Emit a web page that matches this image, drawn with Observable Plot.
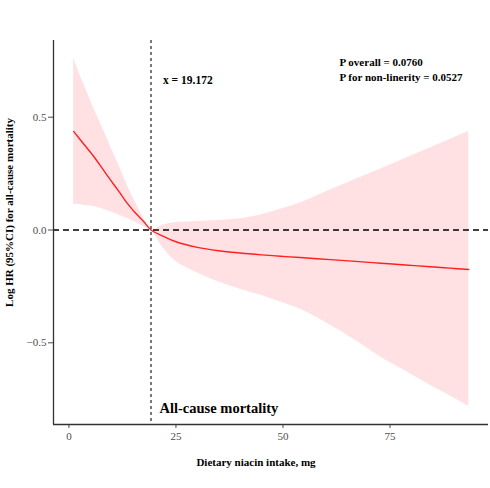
<!DOCTYPE html>
<html>
<head>
<meta charset="utf-8">
<script src="https://cdn.jsdelivr.net/npm/d3@7"></script>
<script src="https://cdn.jsdelivr.net/npm/@observablehq/plot@0.6"></script>
<style>
  html, body { margin: 0; padding: 0; background: #fff; }
  #chart { width: 490px; height: 488px; }
  #chart svg, #chart svg text { font-family: "Liberation Serif", "Times New Roman", serif !important; }
</style>
</head>
<body>
<div id="chart"></div>
<script>
const niacin = [1.1, 3.5, 5.8, 7.8, 9.7, 11.7, 13.6, 15.6, 17.5, 19.172, 22, 25, 30, 35, 40, 45, 49.4, 54, 61.1, 67, 72.8, 78.6, 84.5, 89, 93.4];
const logHR  = [0.437, 0.38, 0.326, 0.273, 0.222, 0.17, 0.119, 0.074, 0.037, 0, -0.027, -0.052, -0.077, -0.092, -0.102, -0.11, -0.116, -0.122, -0.131, -0.139, -0.147, -0.155, -0.163, -0.169, -0.175];
const upper  = [0.759, 0.645, 0.54, 0.455, 0.37, 0.285, 0.2, 0.12, 0.05, 0, 0.022, 0.033, 0.038, 0.042, 0.05, 0.068, 0.092, 0.12, 0.177, 0.225, 0.271, 0.317, 0.365, 0.401, 0.438];
const lower  = [0.114, 0.11, 0.104, 0.094, 0.081, 0.067, 0.052, 0.034, 0.015, 0, -0.08, -0.14, -0.19, -0.23, -0.262, -0.29, -0.319, -0.35, -0.422, -0.49, -0.563, -0.625, -0.689, -0.735, -0.782];

const cutoff = 19.172;
const xTicks = [0, 25, 50, 75];
const yTicks = [-0.5, 0, 0.5];
const xDomain = [-3.6, 98];
const yDomain = [-0.862, 0.84];

const titleText = "All-cause mortality";
const xLabel = "Dietary niacin intake, mg";
const yLabel = "Log HR (95%CI) for all-cause mortality";
const pTexts = ["P overall = 0.0760", "P for non-linerity = 0.0527"];

const rows = niacin.map((x, i) => ({x, fit: logHR[i], lo: lower[i], hi: upper[i]}));
const fmtY = v => d3.format(".1f")(v).replace("-", "\u2212");
const serif = "'Liberation Serif', 'Times New Roman', serif";

const chart = Plot.plot({
  width: 490,
  height: 488,
  marginLeft: 53,
  marginRight: 2,
  marginTop: 40,
  marginBottom: 64,
  style: {fontFamily: serif, background: "#fff"},
  x: {domain: xDomain},
  y: {domain: yDomain},
  marks: [
    Plot.areaY(rows, {x: "x", y1: "lo", y2: "hi", fill: "#ffe1e3", curve: "catmull-rom"}),
    Plot.ruleY([0], {stroke: "#000", strokeWidth: 1.3, strokeDasharray: "6,4"}),
    Plot.ruleX([cutoff], {stroke: "#222", strokeWidth: 1.2, strokeDasharray: "3,3"}),
    Plot.lineY(rows, {x: "x", y: "fit", stroke: "#ff2020", strokeWidth: 1.4, curve: "catmull-rom"}),
    Plot.axisY({ticks: yTicks, tickFormat: fmtY, tickSize: 5, tickPadding: 2, fontSize: 11, fontFamily: serif, color: "#4d4d4d", label: null}),
    Plot.axisX({ticks: xTicks, tickSize: 4, tickPadding: 4, fontSize: 11, fontFamily: serif, color: "#4d4d4d", label: null}),
    Plot.ruleX([xDomain[0]], {stroke: "#333", strokeWidth: 1.3}),
    Plot.ruleY([yDomain[0]], {stroke: "#333", strokeWidth: 1.3}),
    Plot.text([{x: cutoff, t: "x = " + cutoff}], {x: "x", text: "t", frameAnchor: "top", dy: 35.5, dx: 12, textAnchor: "start", fontSize: 11.5, fontWeight: "bold", fontFamily: serif, fill: "#000"}),
    Plot.text([pTexts[0]], {frameAnchor: "top-left", dx: 286, dy: 21.5, textAnchor: "start", lineAnchor: "middle", fontSize: 11, fontWeight: "bold", fontFamily: serif, fill: "#000"}),
    Plot.text([pTexts[1]], {frameAnchor: "top-left", dx: 286, dy: 36.5, textAnchor: "start", lineAnchor: "middle", fontSize: 11, fontWeight: "bold", fontFamily: serif, fill: "#000"}),
    Plot.text([titleText], {frameAnchor: "bottom-left", dx: 106, dy: -16, textAnchor: "start", lineAnchor: "middle", fontSize: 14.5, fontWeight: "bold", fontFamily: serif, fill: "#000"}),
    Plot.text([xLabel], {frameAnchor: "bottom", dx: -15, dy: 38, textAnchor: "middle", lineAnchor: "middle", fontSize: 11, fontWeight: "bold", fontFamily: serif, fill: "#000"}),
    Plot.text([yLabel], {frameAnchor: "left", dx: -44, dy: -20, rotate: -90, textAnchor: "middle", lineAnchor: "middle", fontSize: 11, fontWeight: "bold", fontFamily: serif, fill: "#000"})
  ]
});
document.getElementById("chart").appendChild(chart);
</script>
</body>
</html>
